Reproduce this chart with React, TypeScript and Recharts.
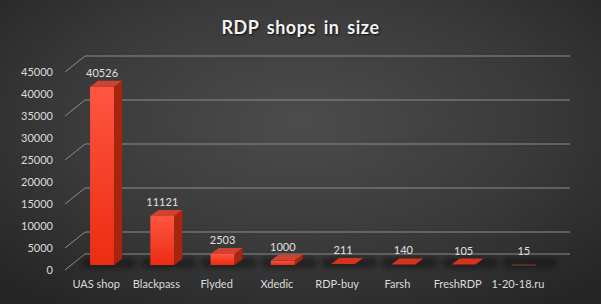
import { BarChart, Bar, XAxis, YAxis, CartesianGrid, LabelList } from 'recharts';

const categories = ['UAS shop', 'Blackpass', 'Flyded', 'Xdedic', 'RDP-buy', 'Farsh', 'FreshRDP', '1-20-18.ru'];
const sizes = [40526, 11121, 2503, 1000, 211, 140, 105, 15];
const yTicks = [0, 5000, 10000, 15000, 20000, 25000, 30000, 35000, 40000, 45000];

const data = categories.map((name, i) => ({ name, size: sizes[i] }));

const FONT = 'Lato, "Open Sans", sans-serif';
// depth of the back wall and of a bar
const WALL_DX = 20;
const WALL_DY = 16;
const BAR_DX = 8;
const BAR_DY = 6;
// bars sit a bit behind the front plane
const SHIFT_X = 6;
const SHIFT_Y = -5;

function Bar3D(props: any) {
  const { x, y, width, height } = props;
  const fx = x + SHIFT_X;
  const fy = y + SHIFT_Y;
  const h = Math.max(height, 0);
  const w = width;
  const base = fy + h;
  const top = `M${fx},${fy} L${fx + BAR_DX},${fy - BAR_DY} L${fx + w + BAR_DX},${fy - BAR_DY} L${fx + w},${fy} Z`;
  const side = `M${fx + w},${fy} L${fx + w + BAR_DX},${fy - BAR_DY} L${fx + w + BAR_DX},${fy + h - BAR_DY} L${fx + w},${fy + h} Z`;
  const flat = h < 1.5;
  const tiny = h < 0.2;
  return (
    <g>
      <rect
        x={fx - 10}
        y={base - 7}
        width={w + BAR_DX + 24}
        height={10}
        rx={5}
        fill="#141414"
        opacity={0.6}
        filter="url(#shadowBlur)"
      />
      {!flat && <rect x={fx} y={fy} width={w} height={h} fill="url(#frontGrad)" />}
      {!flat && <path d={side} fill="#a8240f" />}
      {tiny ? (
        <line x1={fx} y1={base} x2={fx + w} y2={base} stroke="#8a3a2a" strokeWidth={1} />
      ) : (
        <path d={top} fill={flat ? '#d8321c' : '#cf4130'} />
      )}
    </g>
  );
}

function ValueLabel(props: any) {
  const { x, y, width, value } = props;
  return (
    <text
      x={x + width / 2 + SHIFT_X}
      y={y + SHIFT_Y - BAR_DY - 4}
      textAnchor="middle"
      fill="#e0e0e0"
      fontSize={11}
      fontFamily={FONT}
    >
      {value}
    </text>
  );
}

function GridLine(props: any) {
  const { y1, index } = props;
  const x0 = 65;
  const x1 = 570;
  return (
    <path
      key={`g-${index}`}
      d={`M${x0},${y1} L${x0 + WALL_DX},${y1 - WALL_DY} L${x1},${y1 - WALL_DY}`}
      stroke="#8c8c8c"
      strokeWidth={1}
      fill="none"
    />
  );
}

export default function App() {
  return (
    <div
      style={{
        position: 'absolute',
        left: 0,
        top: 0,
        width: 601,
        height: 304,
        background: 'radial-gradient(ellipse 70% 75% at 50% 40%, #4c4c4c 0%, #3a3a3a 55%, #252525 100%)',
      }}
    >
      <div
        style={{
          position: 'absolute',
          left: 0,
          top: 16,
          width: 601,
          textAlign: 'center',
          color: '#f2f2f2',
          fontFamily: FONT,
          fontWeight: 700,
          fontSize: 18,
          wordSpacing: 3,
          letterSpacing: 0.5,
          textShadow: '1px 1px 2px rgba(0,0,0,0.8)',
        }}
      >
        RDP shops in size
      </div>
      <BarChart
        width={601}
        height={304}
        data={data}
        margin={{ top: 72, right: 53, bottom: 0, left: 0 }}
        barCategoryGap="30%"
      >
        <defs>
          <linearGradient id="frontGrad" x1="0" y1="0" x2="0" y2="1">
            <stop offset="0%" stopColor="#ff5540" />
            <stop offset="100%" stopColor="#ec2c12" />
          </linearGradient>
          <filter id="shadowBlur" x="-50%" y="-100%" width="200%" height="300%">
            <feGaussianBlur stdDeviation="2" />
          </filter>
        </defs>
        <CartesianGrid vertical={false} horizontal={GridLine} />
        <XAxis
          dataKey="name"
          height={34}
          axisLine={false}
          tickLine={false}
          tickSize={0}
          tickMargin={10}
          tick={{ fill: '#dcdcdc', fontSize: 11, fontFamily: FONT }}
          interval={0}
        />
        <YAxis
          width={66}
          domain={[0, 45000]}
          ticks={yTicks}
          axisLine={false}
          tickLine={false}
          tickSize={0}
          tickMargin={13}
          tick={{ fill: '#dcdcdc', fontSize: 11, fontFamily: FONT }}
        />
        <Bar dataKey="size" shape={Bar3D} isAnimationActive={false}>
          <LabelList dataKey="size" content={ValueLabel} />
        </Bar>
      </BarChart>
    </div>
  );
}
